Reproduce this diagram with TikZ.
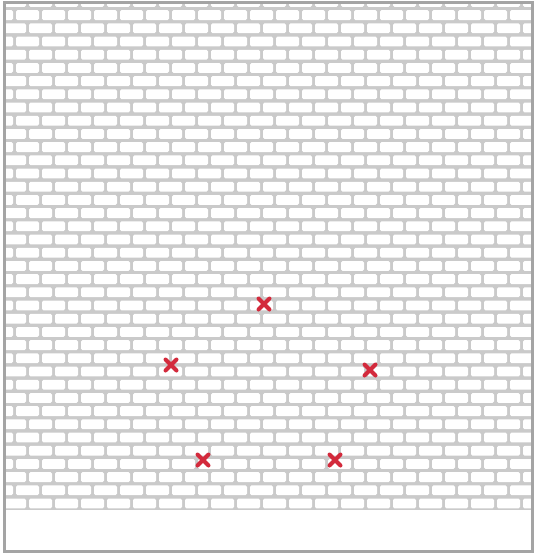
\documentclass[tikz,border=0pt]{standalone}
\usepackage{xcolor}
\usepackage{tikz}
\usetikzlibrary{calc}
\definecolor{mortar}{HTML}{CACACA}
\definecolor{frame}{HTML}{A4A4A4}
\definecolor{hitred}{HTML}{D32A3C}
\tikzset{
  brk/.style={fill=white, rounded corners=1.5pt},
  xmark/.style={draw=hitred, line width=4pt, line cap=round},
  spot/.style={inner sep=0pt, minimum size=#1},
  spot/.default=12pt,
}
\newcommand{\hit}[3]{%
  \node[spot] (#1) at (#2,#3) {};%
  \draw[xmark] ($(#1)+(-5.5,-5.5)$) -- ($(#1)+(5.5,5.5)$)
               ($(#1)+(5.5,-5.5)$) -- ($(#1)+(-5.5,5.5)$);}

\begin{document}
\begin{tikzpicture}[x=1pt, y=-1pt]
  \useasboundingbox (0,0) rectangle (535,555);
  \fill[white] (0,0) rectangle (535,555);
  % brick wall
  \begin{scope}
    \clip (6,4) rectangle (531,510);
    \fill[mortar] (6,4) rectangle (531,510);
    \foreach \r in {-1,...,37} {
      \pgfmathsetmacro{\off}{mod(\r+2,2)*13}
      \foreach \c in {0,...,21} {
        \fill[brk] ({\c*26+\off-10},{10.2+\r*13.2}) rectangle ++(23,9.8);
      }
    }
  \end{scope}
  % frame
  \draw[frame, line width=3pt] (4.5,2) rectangle (532.5,551);
  % hits
  \hit{h1}{264}{304}
  \hit{h2}{171}{365}
  \hit{h3}{370}{370}
  \hit{h4}{203}{460}
  \hit{h5}{335}{460}
\end{tikzpicture}
\end{document}
